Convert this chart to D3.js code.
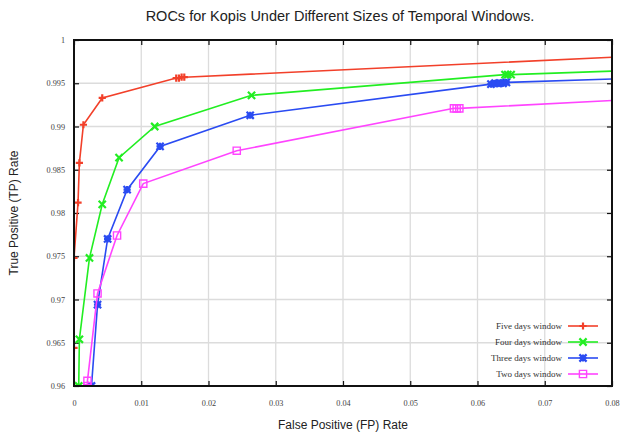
<!DOCTYPE html>
<html><head><meta charset="utf-8">
<script src="https://cdn.jsdelivr.net/npm/d3@7"></script>
<style>body{margin:0;background:#fff}</style>
</head><body>
<svg id="c" width="624" height="434"></svg>
<script>
const xTicks = [0,0.01,0.02,0.03,0.04,0.05,0.06,0.07,0.08];
const yTicks = [0.96,0.965,0.97,0.975,0.98,0.985,0.99,0.995,1];
const seriesNames = ["Five days window","Four days window","Three days window","Two days window"];
const fiveFP  = [0, 0, 0, 0.0006, 0.0008, 0.0014, 0.0042, 0.0152, 0.0156, 0.0160, 0.0164, 0.08];
const fiveTP  = [0.96, 0.9644, 0.9748, 0.9812, 0.9858, 0.9902, 0.9933, 0.9956, 0.9956, 0.9957, 0.9957, 0.998];
const fourFP  = [0.0007, 0.0008, 0.0023, 0.0042, 0.0067, 0.0120, 0.0264, 0.0641, 0.0645, 0.0650, 0.08];
const fourTP  = [0.96, 0.9654, 0.9748, 0.9810, 0.9864, 0.9900, 0.9936, 0.9960, 0.9960, 0.9960, 0.9964];
const threeFP = [0.0026, 0.0035, 0.0050, 0.0079, 0.0128, 0.0262, 0.0620, 0.0626, 0.0632, 0.0638, 0.0643, 0.08];
const threeTP = [0.96, 0.9694, 0.9770, 0.9827, 0.9877, 0.9913, 0.9949, 0.9950, 0.9950, 0.9950, 0.9951, 0.9955];
const twoFP   = [0.0020, 0.0020, 0.0035, 0.0064, 0.0103, 0.0242, 0.0565, 0.0569, 0.0573, 0.08];
const twoTP   = [0.96, 0.9606, 0.9707, 0.9774, 0.9834, 0.9872, 0.9921, 0.9921, 0.9921, 0.9930];
const colors = ["#f2402a","#22ee22","#2a4bf2","#ff44ff"];
const markers = ["plus","x","star","square"];

const svg = d3.select("#c");
const L=74, R=612, T=40, B=386;
const x = d3.scaleLinear().domain([0,0.08]).range([L,R]);
const y = d3.scaleLinear().domain([0.96,1]).range([B,T]);

// grid
svg.append("g").selectAll("line").data(xTicks.slice(1,-1)).join("line")
  .attr("x1",d=>x(d)).attr("x2",d=>x(d)).attr("y1",T).attr("y2",B)
  .attr("stroke","#dcdcdc").attr("stroke-width",1.3);
svg.append("g").selectAll("line").data(yTicks.slice(1,-1)).join("line")
  .attr("y1",d=>y(d)).attr("y2",d=>y(d)).attr("x1",L).attr("x2",R)
  .attr("stroke","#dcdcdc").attr("stroke-width",1.3);

// axes with inward ticks
const fontSerif = "'Liberation Serif','DejaVu Serif',serif";
const ax = svg.append("g").attr("transform",`translate(0,${B})`).call(d3.axisBottom(x).tickValues(xTicks).tickSize(-5).tickPadding(14).tickFormat(d=>d===0?"0":d3.format(".2f")(d)));
const axT = svg.append("g").attr("transform",`translate(0,${T})`).call(d3.axisTop(x).tickValues(xTicks).tickSize(-5).tickFormat(""));
const ay = svg.append("g").attr("transform",`translate(${L},0)`).call(d3.axisLeft(y).tickValues(yTicks).tickSize(-5).tickPadding(9).tickFormat(d=>d===1?"1":d3.format(".3~f")(d)));
const ayR = svg.append("g").attr("transform",`translate(${R},0)`).call(d3.axisRight(y).tickValues(yTicks).tickSize(-5).tickFormat(""));
[ax,axT,ay,ayR].forEach(g=>{
  g.select(".domain").remove();
  g.selectAll(".tick line").attr("stroke","#111").attr("stroke-width",1.2);
  g.selectAll("text").attr("font-family",fontSerif).attr("font-size",8.2).attr("fill","#444");
});

// clip
svg.append("defs").append("clipPath").attr("id","pc").append("rect")
  .attr("x",L).attr("y",T-4).attr("width",R-L).attr("height",B-T+4);

const seriesData = [
  d3.zip(fiveFP,fiveTP), d3.zip(fourFP,fourTP), d3.zip(threeFP,threeTP), d3.zip(twoFP,twoTP)
];

function markerPath(type){
  const s=3.6;
  if(type==="plus") return `M${-s},0H${s}M0,${-s}V${s}`;
  if(type==="x") return `M${-s},${-s}L${s},${s}M${-s},${s}L${s},${-s}`;
  if(type==="star") return `M${-s},${-s}L${s},${s}M${-s},${s}L${s},${-s}M${-s},0H${s}M0,${-s}V${s}`;
  return `M${-s},${-s}H${s}V${s}H${-s}Z`;
}

const line = d3.line().x(d=>x(d[0])).y(d=>y(d[1]));
const plot = svg.append("g").attr("clip-path","url(#pc)");
seriesData.forEach((data,i)=>{
  const g = plot.append("g");
  g.append("path").datum(data).attr("d",line).attr("fill","none")
    .attr("stroke",colors[i]).attr("stroke-width",1.6);
  g.selectAll("path.m").data(data.slice(0,-1)).join("path").attr("class","m")
    .attr("transform",d=>`translate(${x(d[0])},${y(d[1])})`)
    .attr("d",markerPath(markers[i]))
    .attr("fill","none")
    .attr("stroke",colors[i]).attr("stroke-width",markers[i]==="square"?1.4:2.2);
});

// frame
svg.append("rect").attr("x",L).attr("y",T).attr("width",R-L).attr("height",B-T)
  .attr("fill","none").attr("stroke","#111").attr("stroke-width",2);

// legend
const lg = svg.append("g");
seriesNames.forEach((n,i)=>{
  const yy = 326 + i*16;
  lg.append("text").attr("x",562).attr("y",yy).attr("dy","0.35em").attr("text-anchor","end")
    .attr("font-family",fontSerif).attr("font-size",9).attr("fill","#333").text(n);
  lg.append("line").attr("x1",568).attr("x2",598).attr("y1",yy).attr("y2",yy)
    .attr("stroke",colors[i]).attr("stroke-width",1.6);
  lg.append("path").attr("transform",`translate(583,${yy})`).attr("d",markerPath(markers[i]))
    .attr("fill","none").attr("stroke",colors[i]).attr("stroke-width",markers[i]==="square"?1.4:2.2);
});

// titles
const fontSans = "'Liberation Sans',Arial,Helvetica,sans-serif";
svg.append("text").attr("x",340).attr("y",21).attr("text-anchor","middle")
  .attr("font-family",fontSans).attr("font-size",14.5).attr("fill","#222")
  .text("ROCs for Kopis Under Different Sizes of Temporal Windows.");
svg.append("text").attr("x",343).attr("y",429).attr("text-anchor","middle")
  .attr("font-family",fontSans).attr("font-size",12).attr("fill","#222")
  .text("False Positive (FP) Rate");
svg.append("text").attr("transform","translate(18,213) rotate(-90)").attr("text-anchor","middle")
  .attr("font-family",fontSans).attr("font-size",12).attr("fill","#222")
  .text("True Positive (TP) Rate");
</script>
</body></html>
